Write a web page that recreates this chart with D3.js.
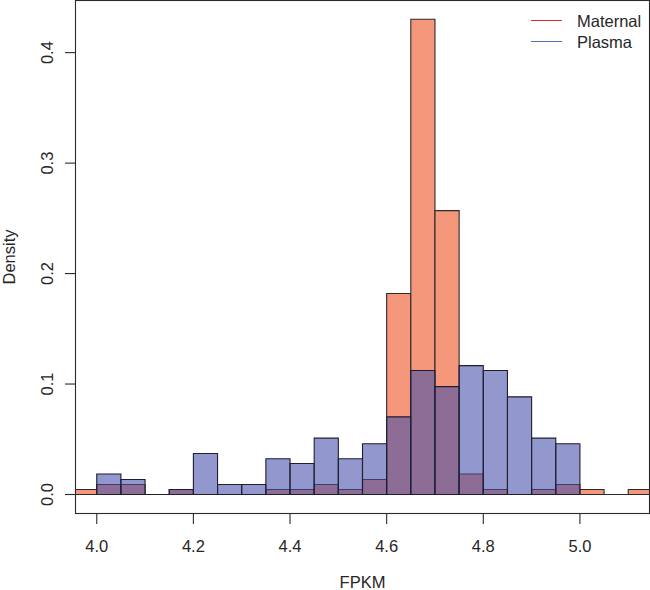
<!DOCTYPE html>
<html>
<head>
<meta charset="utf-8">
<script src="https://cdn.jsdelivr.net/npm/d3@7"></script>
<style>
  html, body { margin: 0; padding: 0; background: #fff; }
  svg { display: block; }
  text { font-family: "Liberation Sans", Arial, sans-serif; fill: #262626; }
</style>
</head>
<body>
<svg id="chart" width="650" height="590"></svg>
<script>
// ---- Data ----
const binWidth = 0.05;
const maternalBinStarts = [3.95, 4.00, 4.05, 4.10, 4.15, 4.20, 4.25, 4.30, 4.35, 4.40, 4.45, 4.50,
                           4.55, 4.60, 4.65, 4.70, 4.75, 4.80, 4.85, 4.90, 4.95, 5.00, 5.05, 5.10];
const maternalDensity   = [0.0045, 0.009, 0.009, 0, 0.0045, 0, 0, 0, 0.0045, 0.0045, 0.009, 0.0045,
                           0.0136, 0.1819, 0.4302, 0.257, 0.0185, 0.0045, 0, 0.0045, 0.009, 0.0045, 0, 0.0045];
const plasmaBinStarts   = [4.00, 4.05, 4.10, 4.15, 4.20, 4.25, 4.30, 4.35, 4.40, 4.45,
                           4.50, 4.55, 4.60, 4.65, 4.70, 4.75, 4.80, 4.85, 4.90, 4.95];
const plasmaDensity     = [0.0185, 0.0136, 0, 0.0045, 0.0371, 0.009, 0.009, 0.0323, 0.028, 0.051,
                           0.0323, 0.046, 0.0703, 0.1122, 0.0977, 0.1167, 0.1122, 0.0884, 0.051, 0.046];
const xTicks = [4.0, 4.2, 4.4, 4.6, 4.8, 5.0];
const yTicks = [0.0, 0.1, 0.2, 0.3, 0.4];
const legendLabels = ["Maternal", "Plasma"];
const legendColors = ["#e0272b", "#4f6fbf"];

// ---- Layout ----
const svg = d3.select("#chart");
const plot = { left: 75.5, right: 649.5, top: 0.5, bottom: 513.5 };

const x = d3.scaleLinear().domain([3.956, 5.144]).range([plot.left, plot.right]);
const y = d3.scaleLinear().domain([-0.0172, 0.4472]).range([plot.bottom, plot.top]);

svg.append("clipPath").attr("id", "clip")
  .append("rect")
  .attr("x", plot.left).attr("y", plot.top)
  .attr("width", plot.right - plot.left).attr("height", plot.bottom - plot.top);

const bars = svg.append("g").attr("clip-path", "url(#clip)");

function barPath(x0, v) {
  const a = x(x0), b = x(x0 + binWidth), y0 = y(0), y1 = y(v);
  return `M${a},${y0}H${b}V${y1}H${a}Z`;
}

const maternal = maternalBinStarts.map((s, i) => ({ s, v: maternalDensity[i] }));
const plasma = plasmaBinStarts.map((s, i) => ({ s, v: plasmaDensity[i] }));

bars.selectAll("path.mat").data(maternal).enter().append("path")
  .attr("class", "mat")
  .attr("d", d => barPath(d.s, d.v))
  .attr("fill", "#f4977b")
  .attr("stroke", "#2a2a2a")
  .attr("stroke-width", 1.1);

bars.selectAll("path.pla").data(plasma).enter().append("path")
  .attr("class", "pla")
  .attr("d", d => barPath(d.s, d.v))
  .attr("fill", "rgb(68,78,168)")
  .attr("fill-opacity", 0.58)
  .attr("stroke", "#1e1e2e")
  .attr("stroke-width", 1.1);

// ---- Box ----
svg.append("rect")
  .attr("x", plot.left).attr("y", plot.top)
  .attr("width", plot.right - plot.left).attr("height", plot.bottom - plot.top)
  .attr("fill", "none").attr("stroke", "#2a2a2a").attr("stroke-width", 1.1);

// ---- X axis ----
const xAxis = svg.append("g");
xTicks.forEach(t => {
  xAxis.append("line")
    .attr("x1", x(t)).attr("x2", x(t))
    .attr("y1", plot.bottom).attr("y2", plot.bottom + 10.5)
    .attr("stroke", "#2a2a2a").attr("stroke-width", 1.1);
  xAxis.append("text")
    .attr("x", x(t)).attr("y", 551.5)
    .attr("text-anchor", "middle")
    .attr("font-size", "16.5px")
    .text(d3.format(".1f")(t));
});

// ---- Y axis ----
const yAxis = svg.append("g");
yTicks.forEach(t => {
  yAxis.append("line")
    .attr("x1", plot.left - 10.5).attr("x2", plot.left)
    .attr("y1", y(t)).attr("y2", y(t))
    .attr("stroke", "#2a2a2a").attr("stroke-width", 1.1);
  yAxis.append("text")
    .attr("transform", `translate(52.5,${y(t)}) rotate(-90)`)
    .attr("text-anchor", "middle")
    .attr("font-size", "16.5px")
    .text(d3.format(".1f")(t));
});

// ---- Axis titles ----
svg.append("text")
  .attr("x", (plot.left + plot.right) / 2).attr("y", 588)
  .attr("text-anchor", "middle").attr("font-size", "16.5px")
  .text("FPKM");

svg.append("text")
  .attr("transform", `translate(14.5,${(plot.top + plot.bottom) / 2}) rotate(-90)`)
  .attr("text-anchor", "middle").attr("font-size", "16.5px")
  .text("Density");

// ---- Legend ----
const legend = svg.append("g");
legendLabels.forEach((lab, i) => {
  const ly = 20.5 + i * 21;
  legend.append("line")
    .attr("x1", 531).attr("x2", 562)
    .attr("y1", ly).attr("y2", ly)
    .attr("stroke", legendColors[i]).attr("stroke-width", 1);
  legend.append("text")
    .attr("x", 577).attr("y", ly + 6)
    .attr("font-size", "16.5px")
    .text(lab);
});
</script>
</body>
</html>
